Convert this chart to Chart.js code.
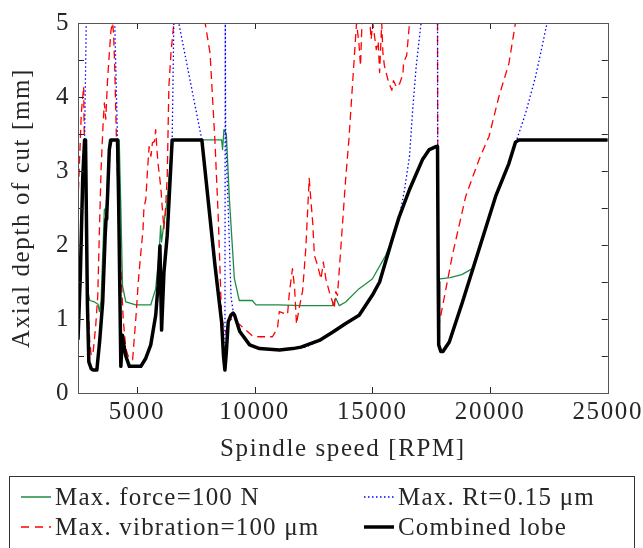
<!DOCTYPE html>
<html>
<head>
<meta charset="utf-8">
<script src="https://cdn.jsdelivr.net/npm/chart.js@4.4.1/dist/chart.umd.min.js"></script>
<style>
  html, body { margin:0; padding:0; background:#fff; }
  #wrap { position:relative; width:643px; height:548px; overflow:hidden; }
  #legend { position:absolute; left:9px; top:476px; width:626px; height:90px; border:1px solid #333; box-sizing:border-box; font-family:"Liberation Serif", serif; font-size:25px; color:#262626; }
  .item { position:absolute; height:30px; line-height:30px; white-space:nowrap; }
  .item svg { position:absolute; left:0; top:0; }
  .item span { position:absolute; left:35px; top:0; letter-spacing:1.2px; }
</style>
</head>
<body>
<div id="wrap">
  <canvas id="c" width="643" height="548"></canvas>
  <div id="legend">
    <div class="item" style="left:10px;top:5px;width:300px">
      <svg width="32" height="30"><line x1="1" y1="15" x2="31" y2="15" stroke="#1e8c45" stroke-width="1.5"/></svg>
      <span>Max. force=100 N</span></div>
    <div class="item" style="left:10px;top:35px;width:320px">
      <svg width="32" height="30"><line x1="1" y1="15" x2="31" y2="15" stroke="#ff0000" stroke-width="1.5" stroke-dasharray="8,6"/></svg>
      <span>Max. vibration=100 μm</span></div>
    <div class="item" style="left:353px;top:5px;width:270px">
      <svg width="32" height="30"><line x1="1" y1="15" x2="31" y2="15" stroke="#0000ff" stroke-width="1.5" stroke-dasharray="1.5,2.5"/></svg>
      <span>Max. Rt=0.15 μm</span></div>
    <div class="item" style="left:353px;top:35px;width:270px">
      <svg width="32" height="30"><line x1="1" y1="15" x2="31" y2="15" stroke="#000" stroke-width="3.5"/></svg>
      <span>Combined lobe</span></div>
  </div>
</div>
<script>
// ---- Data ----
const xTickValues = [5000, 10000, 15000, 20000, 25000];
const yTickValues = [0, 1, 2, 3, 4, 5];

const forceRpm = [2780,2850,2920,3000,3200,3350,3410,3480,3620,3700,3830,4250,4320,4390,4530,4955,5590,5800,5950,6010,6050,6150,6290,6500,8600,8640,8700,8800,8930,9140,9350,9900,10060,11000,12000,13310,13450,13600,13870,14440,15000,15570,15870,16130,16580,17140,17420,17700,17770,17800,18300,18800,19250,19540,20240,20800,21080,21230,25000];
const forceVal = [3.42,2.0,1.37,1.25,1.23,1.2,1.1,1.25,2.48,2.5,3.42,3.42,2.5,1.45,1.23,1.19,1.19,1.41,1.9,2.26,2.04,2.3,2.6,3.42,3.42,3.29,3.56,3.5,2.62,1.55,1.25,1.25,1.19,1.19,1.18,1.18,1.28,1.18,1.23,1.41,1.54,1.86,2.1,2.37,2.75,3.16,3.29,3.33,3.33,1.54,1.56,1.6,1.68,1.95,2.66,3.1,3.39,3.42,3.42];

const vibRpm = [2500,2640,2700,2740,2760,2780,2850,2920,3000,3060,3130,3250,3340,3410,3480,3560,3620,3680,3750,3830,3900,3970,4010,4060,4150,4250,4320,4420,4530,4650,4820,4880,4955,5060,5170,5260,5300,5380,5450,5520,5600,5660,5750,5800,5850,5900,6010,6080,6150,6220,6290,6360,6450,6570,7900,8110,8320,8460,8600,8690,8800,8880,9000,9350,9915,10200,10760,10974,11050,11400,11470,11540,11610,11700,11780,11900,12040,12175,12320,12400,12470,12540,12680,12820,12920,13030,13170,13310,13380,13450,13520,13590,13870,14010,14330,14430,14500,14560,14900,14950,15020,15170,15250,15310,15400,15450,15510,15690,15830,15900,16030,16160,16300,16330,16460,16580,17770,17790,17850,18400,18970,19540,19960,20380,20800,21080,25000];
const vibVal = [2.57,3.78,4.0,4.14,3.6,3.25,2.2,1.23,0.7,0.51,0.51,0.9,1.32,2.2,3.02,3.6,3.92,3.7,4.2,4.59,4.9,5,4.86,4.4,3.2,2.2,1.68,1.0,0.6,0.48,0.45,0.7,1.0,1.5,1.9,2.2,2.5,2.62,3.0,3.33,3.2,3.38,3.4,3.56,3.3,3.1,2.8,2.5,2.22,2.5,2.93,4.14,4.6,5,5,4.59,3.38,2.35,1.0,0.9,0.8,0.96,1.0,0.93,0.77,0.76,0.76,0.88,1.1,1.06,1.33,1.51,1.68,1.42,0.93,1.16,1.38,1.95,2.9,2.57,2.3,1.86,1.72,1.54,1.77,1.54,1.37,1.23,1.14,1.37,1.32,1.63,2.9,3.44,5,4.73,4.42,5,5,4.78,5,4.64,4.75,4.33,5,4.6,4.43,4.2,4.09,4.22,4.13,4.18,4.31,4.47,4.56,5,5,0.83,0.95,1.86,2.66,3.16,3.47,4.01,4.45,5,5];

const rtRpm = [2500,2600,2700,2780,2850,3450,4060,4180,4320,4390,4460,4530,4680,5170,5380,5590,5800,5900,5980,6050,6150,6290,6500,6570,6680,6780,7760,8320,8600,8680,8740,8755,8770,8900,9000,9090,9150,9370,9790,10210,11060,11620,12180,12750,13310,13870,14440,15000,15310,15570,15870,16150,16370,16580,16720,16860,17070,17500,17770,17780,17820,17910,18000,18270,18830,19540,20240,20800,21080,21510,21930,22210,22420,25000];
const rtVal = [0.72,1.6,2.9,3.42,5,6.5,5,3.42,0.36,0.78,0.62,0.5,0.36,0.36,0.47,0.65,1.05,1.45,1.99,0.85,1.63,2.13,3.42,5,5.3,5,3.42,1.72,0.96,0.5,0.31,5.5,3.5,2.3,1.3,1.1,1.05,0.83,0.65,0.6,0.58,0.6,0.62,0.71,0.82,0.94,1.05,1.32,1.5,1.78,2.1,2.38,2.75,3.2,3.85,4.4,5,6,5.2,2.0,0.65,0.56,0.56,0.69,1.23,1.95,2.66,3.1,3.37,3.78,4.27,4.68,5,5];

const lobeRpm = [2500,2600,2700,2780,2820,2900,2960,3060,3130,3300,3420,3550,3650,3690,3720,3760,3830,3900,4180,4230,4320,4390,4460,4530,4680,5170,5380,5590,5800,5900,5980,6050,6150,6290,6500,7760,8320,8600,8680,8740,8800,8880,8990,9090,9150,9370,9790,10210,11060,11620,11970,12750,13310,13870,14440,15000,15310,15570,15870,16130,16580,17140,17420,17700,17770,17800,17820,17910,18000,18270,18830,19540,20240,20800,21080,21230,25000];
const lobeVal = [0.72,1.6,2.9,3.42,3.42,1.2,0.42,0.33,0.31,0.31,0.7,1.23,2.1,2.35,2.4,2.7,3.29,3.42,3.42,2.5,0.36,0.78,0.62,0.5,0.36,0.36,0.47,0.65,1.05,1.45,1.99,0.85,1.63,2.13,3.42,3.42,1.72,0.96,0.5,0.31,0.55,0.96,1.05,1.08,1.05,0.83,0.65,0.6,0.58,0.6,0.62,0.71,0.82,0.94,1.05,1.32,1.5,1.78,2.1,2.37,2.75,3.16,3.29,3.33,3.33,1.5,0.65,0.56,0.56,0.69,1.23,1.95,2.66,3.1,3.39,3.42,3.42];

const pts = (xs, ys) => xs.map((x, i) => ({ x: x, y: ys[i] }));

const TEXT = '#262626';
const FONT = 'Liberation Serif';

const spacingPlugin = {
  id: 'spacing',
  beforeDraw(chart) { chart.ctx.letterSpacing = '1.6px'; },
  afterDraw(chart) { chart.ctx.letterSpacing = '0px'; }
};

const framePlugin = {
  id: 'frame',
  afterDatasetsDraw(chart) {
    const { ctx, chartArea: a, scales } = chart;
    ctx.save();
    ctx.strokeStyle = TEXT;
    ctx.lineWidth = 1;
    ctx.beginPath();
    const L = 6;
    xTickValues.forEach(v => {
      const px = Math.round(scales.x.getPixelForValue(v)) + 0.5;
      ctx.moveTo(px, a.bottom); ctx.lineTo(px, a.bottom - L);
      ctx.moveTo(px, a.top); ctx.lineTo(px, a.top + L);
    });
    for (let v = 0; v <= 5.0001; v += 0.5) {
      const py = Math.round(scales.y.getPixelForValue(v)) + 0.5;
      ctx.moveTo(a.left, py); ctx.lineTo(a.left + L, py);
      ctx.moveTo(a.right, py); ctx.lineTo(a.right - L, py);
    }
    ctx.stroke();
    ctx.strokeStyle = '#555';
    ctx.strokeRect(Math.round(a.left) + 0.5, Math.round(a.top) + 0.5, Math.round(a.right - a.left), Math.round(a.bottom - a.top));
    ctx.restore();
  }
};

new Chart(document.getElementById('c'), {
  type: 'line',
  data: {
    datasets: [
      { label: 'Combined lobe', data: pts(lobeRpm, lobeVal), borderColor: '#000000', borderWidth: 3.5, order: 0 },
      { label: 'Max. Rt=0.15 μm', data: pts(rtRpm, rtVal), borderColor: '#0000ff', borderWidth: 1.3, borderDash: [1.5, 2.5], order: 1 },
      { label: 'Max. vibration=100 μm', data: pts(vibRpm, vibVal), borderColor: '#ff0000', borderWidth: 1.3, borderDash: [8, 5], order: 2 },
      { label: 'Max. force=100 N', data: pts(forceRpm, forceVal), borderColor: '#1e8c45', borderWidth: 1.3, order: 3 }
    ]
  },
  options: {
    responsive: false,
    animation: false,
    layout: { padding: { top: 18, right: 33, bottom: 84, left: 0 } },
    elements: { point: { radius: 0 }, line: { tension: 0, borderJoinStyle: 'round' } },
    plugins: { legend: { display: false }, tooltip: { enabled: false } },
    scales: {
      x: {
        type: 'linear', min: 2500, max: 25000,
        afterBuildTicks: s => { s.ticks = xTickValues.map(v => ({ value: v })); },
        afterFit: s => { s.height = 71; },
        grid: { display: false, drawTicks: false },
        border: { display: false },
        ticks: { color: TEXT, font: { family: FONT, size: 25 }, padding: 4, maxRotation: 0, autoSkip: false, callback: v => String(v) },
        title: { display: true, text: 'Spindle speed [RPM]', color: TEXT, font: { family: FONT, size: 25 }, padding: 0 }
      },
      y: {
        type: 'linear', min: 0, max: 5,
        afterBuildTicks: s => { s.ticks = yTickValues.map(v => ({ value: v })); },
        afterFit: s => { s.width = 78; },
        grid: { display: false, drawTicks: false },
        border: { display: false },
        ticks: { color: TEXT, font: { family: FONT, size: 25 }, padding: 8, callback: v => String(v) },
        title: { display: true, text: 'Axial depth of cut [mm]', color: TEXT, font: { family: FONT, size: 25 }, padding: 7 }
      }
    }
  },
  plugins: [spacingPlugin, framePlugin]
});
</script>
</body>
</html>
